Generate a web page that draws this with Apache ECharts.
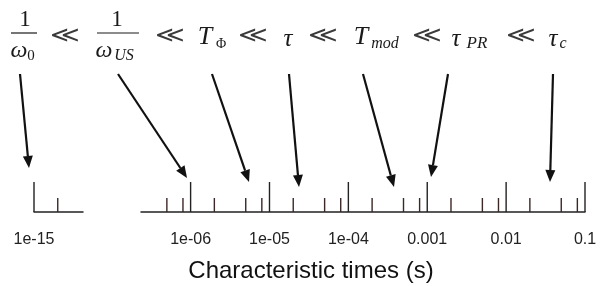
<!DOCTYPE html>
<html><head><meta charset="utf-8">
<script src="https://cdn.jsdelivr.net/npm/echarts@6/dist/echarts.min.js"></script>
<style>html,body{margin:0;padding:0;background:#fff}#c{width:601px;height:286px}</style>
</head><body><div id="c"></div>
<script>
// ---- data ----
const seg1Range = [1e-15, 4.18e-15];
const seg1Major = [1e-15];
const seg1Labels = ['1e-15'];
const seg1Minor = [2e-15];

const seg2Range = [2.35e-7, 0.1];
const seg2Major = [1e-6, 1e-5, 1e-4, 1e-3, 1e-2, 1e-1];
const seg2Labels = ['1e-06', '1e-05', '1e-04', '0.001', '0.01', '0.1'];
const seg2Minor = [5e-7, 8e-7, 2e-6, 5e-6, 8e-6, 2e-5, 5e-5, 8e-5, 2e-4, 5e-4, 8e-4,
                   2e-3, 5e-3, 8e-3, 2e-2, 5e-2, 8e-2];

const axisTitle = 'Characteristic times (s)';

// ---- styling ----
const INK = '#1a1a1a';
const SERIF = '"Liberation Serif", "DejaVu Serif", serif';
const SANS = '"Liberation Sans", Arial, sans-serif';
const MAJOR_LEN = 30, MINOR_LEN = 14;

function tickSeries(idx, values, labels, major) {
  return {
    type: 'custom', xAxisIndex: idx, yAxisIndex: idx, clip: false, silent: true,
    data: values.map(v => [v, 0]),
    renderItem: function (params, api) {
      const p = api.coord([api.value(0), api.value(1)]);
      const children = [{
        type: 'line',
        shape: {x1: p[0], y1: p[1], x2: p[0], y2: p[1] - (major ? MAJOR_LEN : MINOR_LEN)},
        style: {stroke: major ? '#222' : '#3a2826', lineWidth: 1.4}
      }];
      if (labels) {
        children.push({
          type: 'text', x: p[0], y: p[1] + 28,
          style: {text: labels[params.dataIndex], font: '16px ' + SANS, fill: '#222',
                  align: 'center', verticalAlign: 'middle'}
        });
      }
      return {type: 'group', children: children};
    }
  };
}

function logAxis(gi, range) {
  return {
    type: 'log', logBase: 10, gridIndex: gi, min: range[0], max: range[1],
    axisLine: {show: true, onZero: false, lineStyle: {color: '#222', width: 1.5}},
    axisTick: {show: false}, axisLabel: {show: false}, splitLine: {show: false}
  };
}

// ---- formula (annotation text) ----
function txt(x, y, s, size, italic, fam) {
  return {type: 'text', x: x, y: y, silent: true,
    style: {text: s, font: (italic ? 'italic ' : '') + size + 'px ' + (fam || SERIF),
            fill: INK, align: 'center', verticalAlign: 'middle'}};
}
function ll(x, y) {
  return {type: 'text', x: x, y: y, silent: true, scaleX: 1.3, originX: 0, originY: 0,
    style: {text: '\u226A', font: '22px "DejaVu Sans ExtraLight", "DejaVu Sans"',
            fill: '#3a3a3a', align: 'center', verticalAlign: 'middle'}};
}
function hline(x1, x2, y) {
  return {type: 'line', silent: true, shape: {x1: x1, y1: y, x2: x2, y2: y},
          style: {stroke: INK, lineWidth: 1.2}};
}
const formula = [
  txt(25, 20, '1', 23), hline(11, 37, 33), txt(19, 51, '\u03C9', 24, true), txt(31, 56, '0', 15),
  ll(65, 36),
  txt(117, 20, '1', 23), hline(97, 139, 33), txt(104, 51, '\u03C9', 24, true), txt(124, 56, 'US', 16, true),
  ll(170, 36),
  txt(205, 37, 'T', 26, true), txt(221, 44, '\u03A6', 14),
  ll(253, 36),
  txt(288, 39, '\u03C4', 25, true),
  ll(323, 36),
  txt(361, 37, 'T', 26, true), txt(385, 44, 'mod', 16, true),
  ll(427, 36),
  txt(456, 39, '\u03C4', 25, true), txt(477, 44, 'PR', 17, true),
  ll(521, 36),
  txt(553, 39, '\u03C4', 25, true), txt(563, 44, 'c', 16, true)
];

// ---- arrows (annotation) ----
const arrows = [
  [[20, 74], [29, 168]],
  [[118, 74], [187, 178]],
  [[212, 74], [249, 182]],
  [[289, 74], [299, 187]],
  [[363, 74], [394, 187]],
  [[448, 74], [431, 177]],
  [[553, 74], [550, 182]]
];
function arrow(a) {
  const [t, h] = a;
  const dx = h[0] - t[0], dy = h[1] - t[1];
  const L = Math.hypot(dx, dy), ux = dx / L, uy = dy / L;
  const HL = 12, HW = 5;
  const bx = h[0] - ux * HL, by = h[1] - uy * HL;
  return [
    {type: 'line', silent: true, shape: {x1: t[0], y1: t[1], x2: bx, y2: by},
     style: {stroke: '#111', lineWidth: 2.2}},
    {type: 'polygon', silent: true,
     shape: {points: [[h[0], h[1]], [bx - uy * HW, by + ux * HW], [bx + uy * HW, by - ux * HW]]},
     style: {fill: '#111'}}
  ];
}

const chart = echarts.init(document.getElementById('c'), null, {renderer: 'canvas'});
chart.setOption({
  animation: false,
  backgroundColor: '#fff',
  grid: [
    {left: 34, width: 49, top: 150, height: 62},
    {left: 141, width: 444, top: 150, height: 62}
  ],
  xAxis: [logAxis(0, seg1Range), logAxis(1, seg2Range)],
  yAxis: [
    {type: 'value', gridIndex: 0, min: 0, max: 1, show: false},
    {type: 'value', gridIndex: 1, min: 0, max: 1, show: false}
  ],
  series: [
    tickSeries(0, seg1Minor, null, false),
    tickSeries(0, seg1Major, seg1Labels, true),
    tickSeries(1, seg2Minor, null, false),
    tickSeries(1, seg2Major, seg2Labels, true)
  ],
  graphic: [
    ...formula,
    ...arrows.flatMap(arrow),
    {type: 'text', x: 311, y: 271, silent: true,
     style: {text: axisTitle, font: '24px ' + SANS, fill: '#111', align: 'center', verticalAlign: 'middle'}}
  ]
});
</script></body></html>
